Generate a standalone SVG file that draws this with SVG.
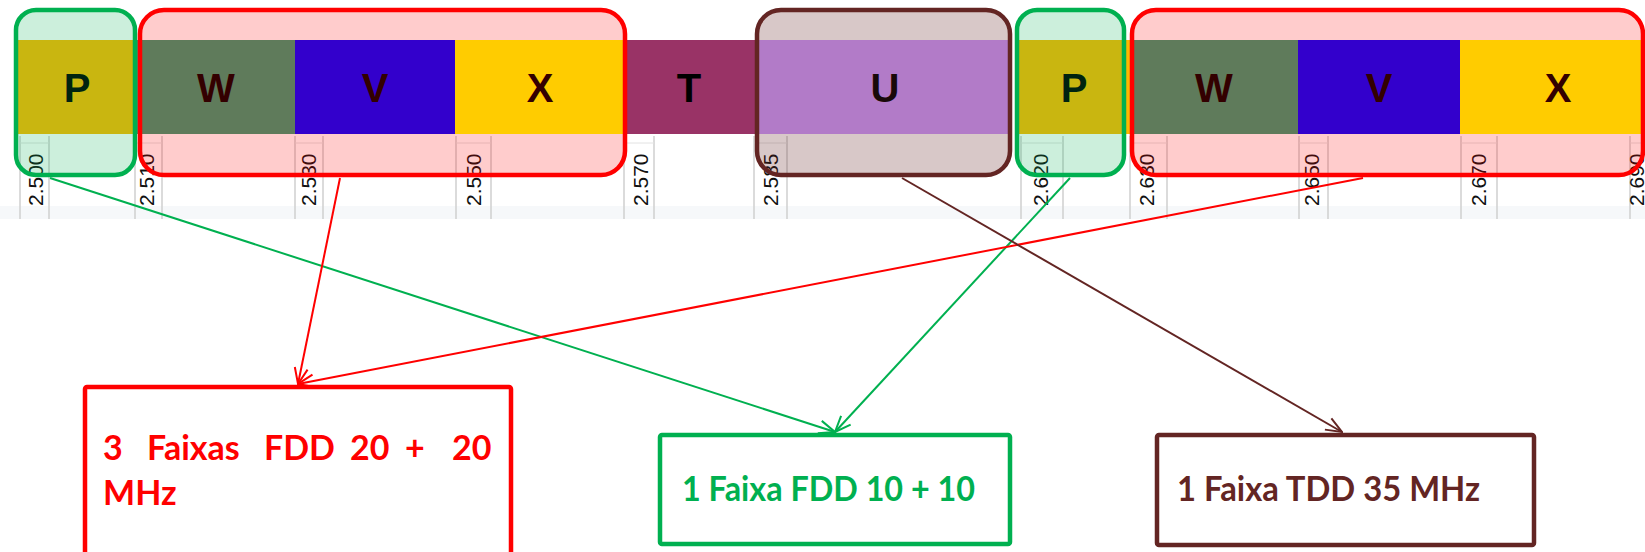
<svg xmlns="http://www.w3.org/2000/svg" width="1645" height="552" viewBox="0 0 1645 552">
<style>
.tick{stroke:#cfcfcf;stroke-width:1.5;fill:none}
.tl{font-family:"Liberation Sans",Arial,sans-serif;font-size:21px;fill:#111}
.band-l{font-family:"Liberation Sans",Arial,sans-serif;font-size:40px;font-weight:bold;fill:#000;text-anchor:middle}
.g-box{fill:#00b050;fill-opacity:0.2;stroke:#00b050;stroke-width:4.5}
.r-box{fill:#ff0000;fill-opacity:0.2;stroke:#ff0000;stroke-width:4.5}
.b-box{fill:#632523;fill-opacity:0.25;stroke:#632523;stroke-width:4.5}
.lbl{font-family:Lato,"Open Sans","Liberation Sans",sans-serif;font-size:34px;font-weight:bold}
.conn{fill:none;stroke-width:2}
</style>
<defs>
<marker id="ah-g" markerUnits="userSpaceOnUse" viewBox="0 0 18 16" refX="17" refY="8" markerWidth="18" markerHeight="16" orient="auto"><path d="M1,1.5 L17,8 L1,14.5" fill="none" stroke="#00b050" stroke-width="2"/></marker>
<marker id="ah-r" markerUnits="userSpaceOnUse" viewBox="0 0 18 16" refX="17" refY="8" markerWidth="18" markerHeight="16" orient="auto"><path d="M1,1.5 L17,8 L1,14.5" fill="none" stroke="#ff0000" stroke-width="2"/></marker>
<marker id="ah-b" markerUnits="userSpaceOnUse" viewBox="0 0 18 16" refX="17" refY="8" markerWidth="18" markerHeight="16" orient="auto"><path d="M1,1.5 L17,8 L1,14.5" fill="none" stroke="#632523" stroke-width="2"/></marker>
</defs>
<rect x="0" y="0" width="1645" height="552" fill="#fff"/>
<rect x="0" y="206" width="1645" height="13" fill="#f6f8fa"/>
<g id="axis">
<path class="tick" d="M20,136V219M49,136V219 M135,136V219M162,136V219 M295,136V219M323,136V219 M456,136V219M491,136V219 M624,136V219M654,136V219 M754,136V219M787,136V219 M1021,136V219M1063,136V219 M1130,136V219M1167,136V219 M1299,136V219M1328,136V219 M1461,136V219M1497,136V219 M1630,136V219"/>
<path d="M20,143H49M135,143H162M295,143H323M456,143H491M624,143H654M754,143H787M1021,143H1063M1130,143H1167M1299,143H1328M1461,143H1497M1630,143H1645" stroke="#e2e2e2" stroke-width="1" fill="none"/>
<text class="tl" transform="translate(43,206) rotate(-90)">2.500</text>
<text class="tl" transform="translate(154,206) rotate(-90)">2.510</text>
<text class="tl" transform="translate(316,206) rotate(-90)">2.530</text>
<text class="tl" transform="translate(481,206) rotate(-90)">2.550</text>
<text class="tl" transform="translate(648,206) rotate(-90)">2.570</text>
<text class="tl" transform="translate(778,206) rotate(-90)">2.585</text>
<text class="tl" transform="translate(1048,206) rotate(-90)">2.620</text>
<text class="tl" transform="translate(1154,206) rotate(-90)">2.630</text>
<text class="tl" transform="translate(1319,206) rotate(-90)">2.650</text>
<text class="tl" transform="translate(1486,206) rotate(-90)">2.670</text>
<text class="tl" transform="translate(1644,206) rotate(-90)">2.690</text>
</g>
<g id="bands">
<rect x="16" y="40" width="121" height="94" fill="#fcb800"/>
<rect x="137" y="40" width="158" height="94" fill="#389a72"/>
<rect x="295" y="40" width="160" height="94" fill="#0000ff"/>
<rect x="455" y="40" width="170" height="94" fill="#ffff00"/>
<rect x="623" y="40" width="134" height="94" fill="#993366"/>
<rect x="757" y="40" width="254" height="94" fill="#cc99ff"/>
<rect x="1016" y="40" width="114" height="94" fill="#fcb800"/>
<rect x="1130" y="40" width="168" height="94" fill="#389a72"/>
<rect x="1298" y="40" width="162" height="94" fill="#0000ff"/>
<rect x="1460" y="40" width="185" height="94" fill="#ffff00"/>
<text class="band-l" x="77" y="102">P</text>
<text class="band-l" x="216" y="102">W</text>
<text class="band-l" x="375" y="102">V</text>
<text class="band-l" x="540" y="102">X</text>
<text class="band-l" x="689" y="102">T</text>
<text class="band-l" x="885" y="102">U</text>
<text class="band-l" x="1074" y="102">P</text>
<text class="band-l" x="1214" y="102">W</text>
<text class="band-l" x="1379" y="102">V</text>
<text class="band-l" x="1558" y="102">X</text>
</g>
<g id="group-p1"><rect class="g-box" x="16" y="10" width="119" height="165" rx="20"/></g>
<g id="group-fdd1"><rect class="r-box" x="140" y="10" width="485" height="165" rx="24"/></g>
<g id="group-tdd"><rect class="b-box" x="757" y="10" width="253" height="165" rx="24"/></g>
<g id="group-p2"><rect class="g-box" x="1017" y="10" width="107" height="165" rx="20"/></g>
<g id="group-fdd2"><rect class="r-box" x="1132" y="10" width="511" height="165" rx="24"/></g>
<g id="connectors">
<path class="conn" stroke="#00b050" d="M50,178 L835,432" marker-end="url(#ah-g)"/>
<path class="conn" stroke="#00b050" d="M1070,178 L835,432" marker-end="url(#ah-g)"/>
<path class="conn" stroke="#ff0000" d="M340,178 L298,384" marker-end="url(#ah-r)"/>
<path class="conn" stroke="#ff0000" d="M1363,178 L298,384" marker-end="url(#ah-r)"/>
<path class="conn" stroke="#632523" d="M902,178 L1342,432" marker-end="url(#ah-b)"/>
</g>
<g id="node-fdd3x20">
<rect x="85" y="387" width="426" height="200" rx="2" fill="#fff" stroke="#ff0000" stroke-width="4.5"/>
<text class="lbl" fill="#ff0000" y="460"><tspan x="103">3</tspan><tspan x="147">Faixas</tspan><tspan x="264">FDD</tspan><tspan x="350">20</tspan><tspan x="405">+</tspan><tspan x="452">20</tspan></text>
<text class="lbl" fill="#ff0000" x="103" y="505">MHz</text>
</g>
<g id="node-fdd10">
<rect x="660" y="435" width="350" height="109" rx="2" fill="#fff" stroke="#00b050" stroke-width="4.5"/>
<text class="lbl" fill="#00b050" x="682" y="501" textLength="293" lengthAdjust="spacingAndGlyphs">1 Faixa FDD 10 + 10</text>
</g>
<g id="node-tdd35">
<rect x="1157" y="435" width="377" height="110" rx="2" fill="#fff" stroke="#632523" stroke-width="4.5"/>
<text class="lbl" fill="#632523" x="1177" y="501" textLength="303" lengthAdjust="spacingAndGlyphs">1 Faixa TDD 35 MHz</text>
</g>
</svg>
